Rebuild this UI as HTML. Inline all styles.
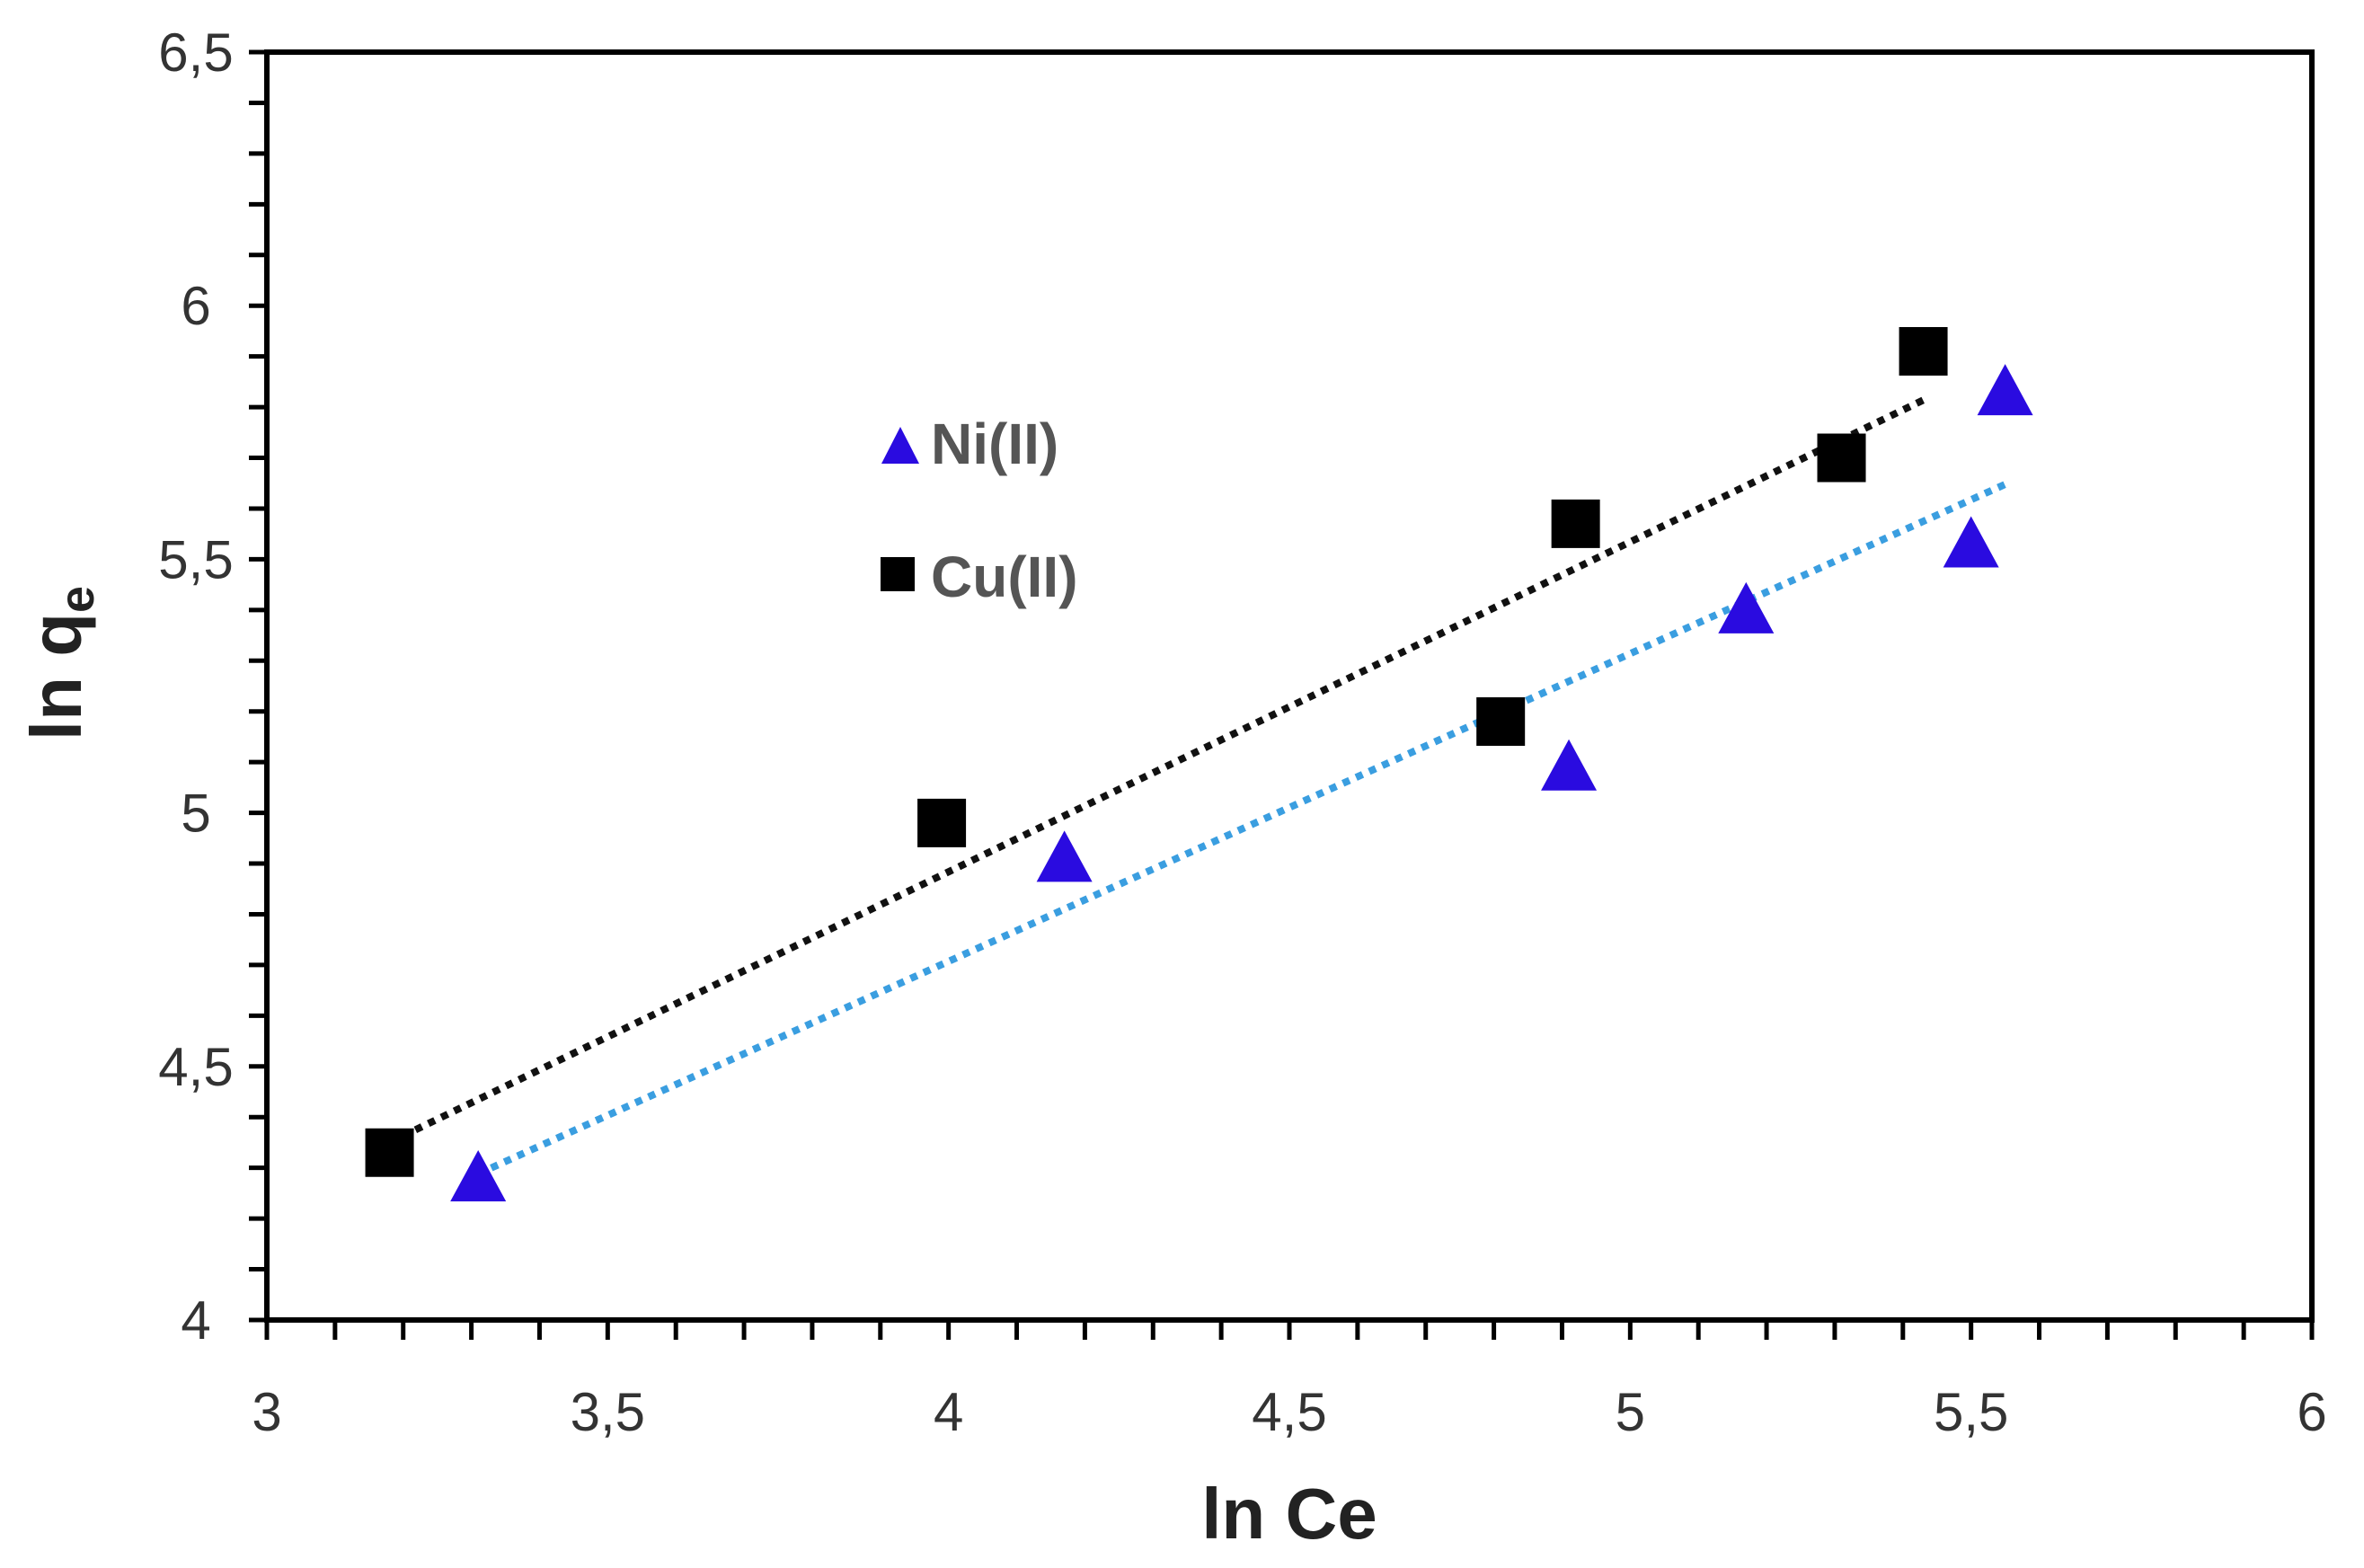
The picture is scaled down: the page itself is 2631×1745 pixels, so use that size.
<!DOCTYPE html>
<html><head><meta charset="utf-8"><style>
html,body{margin:0;padding:0;background:#fff;}
svg{display:block;}
</style></head><body>
<svg id="chart" width="2631" height="1745" xmlns="http://www.w3.org/2000/svg" font-family="'Liberation Sans', sans-serif">
<g id="grid"></g>
<g id="lines"></g>
<g id="marks"></g>
<g>
  <polygon points="981,516 1002,475 1023,516" fill="#2a0be0"/>
  <text x="1036" y="516" font-size="64" font-weight="bold" fill="#555">Ni(II)</text>
  <rect x="980" y="620" width="38" height="38" fill="#000"/>
  <text x="1036" y="664" font-size="64" font-weight="bold" fill="#555">Cu(II)</text>
</g>
<text x="1435" y="1712" font-size="80" font-weight="bold" text-anchor="middle" fill="#222">ln Ce</text>
<text transform="translate(90,738) rotate(-90)" font-size="80" font-weight="bold" text-anchor="middle" fill="#222">ln q<tspan font-size="54" dy="14">e</tspan></text>
</svg>
<script>
const xTicks=[3,3.5,4,4.5,5,5.5,6];
const xTickLabels=["3","3,5","4","4,5","5","5,5","6"];
const yTicks=[4,4.5,5,5.5,6,6.5];
const yTickLabels=["4","4,5","5","5,5","6","6,5"];
const cuX=[3.18,3.99,4.81,4.92,5.31,5.43];
const cuY=[4.33,4.98,5.18,5.57,5.70,5.91];
const niX=[3.31,4.17,4.91,5.17,5.50,5.55];
const niY=[4.28,4.91,5.09,5.40,5.53,5.83];
const L=297,R=2573,T=58,B=1469;
const xs=v=>L+(v-3)/3*(R-L);
const ys=v=>B-(v-4)/2.5*(B-T);
const NS="http://www.w3.org/2000/svg";
function mk(tag,attrs,parent){const e=document.createElementNS(NS,tag);for(const k in attrs)e.setAttribute(k,attrs[k]);parent.appendChild(e);return e;}
const g=document.getElementById('grid');
for(let i=0;i<=30;i++){const v=3+i*0.1;const x=xs(v);
 const t=mk('line',{x1:x,x2:x,y1:B,y2:B+22,stroke:'#000','stroke-width':5},g);
 
 }
for(let i=0;i<=25;i++){const v=4+i*0.1;const y=ys(v);
 const t=mk('line',{x1:L-20,x2:L,y1:y,y2:y,stroke:'#000','stroke-width':5},g);
 
 }
xTicks.forEach((v,i)=>{const t=mk('text',{x:xs(v),y:1592,'font-size':60,'text-anchor':'middle',fill:'#333'},g);t.textContent=xTickLabels[i];
 
 });
yTicks.forEach((v,i)=>{const t=mk('text',{x:218,y:ys(v)+21,'font-size':60,'text-anchor':'middle',fill:'#333'},g);t.textContent=yTickLabels[i];
 
 });
const frame=mk('rect',{x:L,y:T,width:R-L,height:B-T,fill:'none',stroke:'#000','stroke-width':6},g);


function fit(X,Y){const n=X.length;let sx=0,sy=0,sxx=0,sxy=0;for(let i=0;i<n;i++){sx+=X[i];sy+=Y[i];sxx+=X[i]*X[i];sxy+=X[i]*Y[i];}
 const m=(n*sxy-sx*sy)/(n*sxx-sx*sx);return [m,(sy-m*sx)/n];}
const lg=document.getElementById('lines');
[[cuX,cuY,'#111','cu-trendline'],[niX,niY,'#3a9ee0','ni-trendline']].forEach(([X,Y,c,name])=>{
 const [m,b]=fit(X,Y);const x0=Math.min(...X),x1=Math.max(...X);
 const l=mk('line',{x1:xs(x0),y1:ys(m*x0+b),x2:xs(x1),y2:ys(m*x1+b),stroke:c,'stroke-width':8,'stroke-dasharray':'8 8'},lg);
 
 });
const mg=document.getElementById('marks');
cuX.forEach((v,i)=>{const x=xs(v),y=ys(cuY[i]);
 const r=mk('rect',{x:x-27,y:y-27,width:54,height:54,fill:'#000'},mg);
 
 });
niX.forEach((v,i)=>{const x=xs(v),y=ys(niY[i]);
 const p=mk('polygon',{points:`${x-31},${y+26} ${x},${y-31} ${x+31},${y+26}`,fill:'#2a0be0'},mg);
 
 });
</script>
</body></html>
